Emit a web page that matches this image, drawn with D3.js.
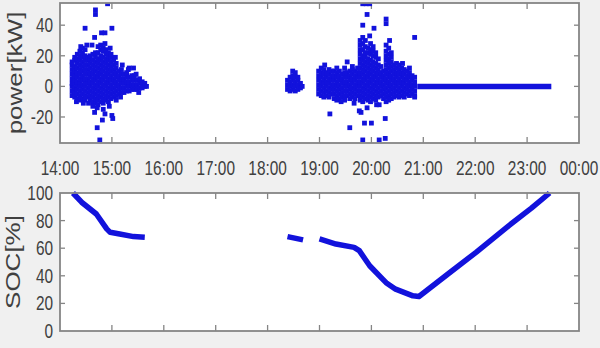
<!DOCTYPE html>
<html>
<head>
<meta charset="utf-8">
<script src="https://cdn.jsdelivr.net/npm/d3@7"></script>
<style>
  html, body { margin:0; padding:0; background:#f0f0f0; }
  svg { display:block; }
  text { font-family:"Liberation Sans", Arial, sans-serif; fill:#404040; }
</style>
</head>
<body>
<svg id="chart" width="600" height="348"></svg>
<script>
// ==================== DATA ====================
// time = minutes after 14:00
const tickMinutes = [0, 60, 120, 180, 240, 300, 360, 420, 480, 540, 600];
const tickLabels = ["14:00","15:00","16:00","17:00","18:00","19:00","20:00","21:00","22:00","23:00","00:00"];
const powerTicks = [-20, 0, 20, 40];
const socTicks = [0, 20, 40, 60, 80, 100];

// power bursts: [minute, [kW values seen in that column]]
const burst1 = [
  [14, [-6,-3,0,2,5,8,11,14,16]],
  [16, [-4,-1,3,6,9,12]],
  [17, [-7,-4,-1,2,4,7,10,13,17,19]],
  [20, [-8,-5,-2,1,3,6,9,12,15,18,21]],
  [23, [-9,-6,-3,0,3,5,8,11,14,17,20,23]],
  [26, [-8,-5,-2,1,4,7,10,13,16,19,22,25]],
  [29, [-9,-6,-3,0,2,5,8,11,14,17,20,24]],
  [32, [-7,-4,-1,2,5,8,11,14,17,19]],
  [35, [-9,-6,-3,0,3,6,9,12,15,18,20]],
  [38, [-10,-7,-4,-1,2,5,8,11,14,17,21]],
  [41, [-11,-8,-5,-2,1,4,7,10,13,16,19,22]],
  [44, [-12,-9,-6,-3,0,3,6,9,12,15,18,22,26]],
  [47, [-10,-7,-4,-1,2,5,8,11,14,17,20,24,27]],
  [50, [-11,-8,-5,-2,1,4,7,10,13,16,19,23,25]],
  [53, [-9,-6,-3,0,3,6,9,12,15,18,21,24]],
  [56, [-10,-7,-4,-1,2,5,8,11,14,17,20,22]],
  [59, [-8,-5,-2,1,4,7,10,13,16,19,21]],
  [62, [-7,-4,-1,2,5,8,11,14,17]],
  [65, [-6,-3,0,3,6,9,12,15]],
  [68, [-5,-2,1,4,7,10]],
  [71, [-4,-1,2,5,8,11]],
  [74, [-4,-1,2,5,8]],
  [77, [-3,0,3,6,9]],
  [80, [-3,0,3,6,12]],
  [83, [-2,1,4,7]],
  [86, [-2,1,4,7]],
  [89, [-2,1,4]],
  [92, [-1,2,5]],
  [95, [-1,1,3]],
  [98, [0,2]],
  [100, [0]]
];
const burst2 = [
  [263, [-2,1,4]],
  [266, [-3,0,3,6]],
  [269, [-2,1,4,7,10]],
  [272, [-3,0,3,6,9]],
  [275, [-2,1,4,6]],
  [278, [-1,2]],
  [280, [0]]
];
const burst3 = [
  [299, [-5,-2,1,4,7,10]],
  [302, [-6,-3,0,3,6,9,12]],
  [305, [-7,-4,-1,2,5,8,11]],
  [308, [-6,-3,0,3,6,9]],
  [311, [-7,-4,-1,2,5,8,11]],
  [314, [-5,-2,1,4,7,10]],
  [317, [-8,-5,-2,1,4,7,10]],
  [320, [-9,-6,-3,0,3,6,9]],
  [323, [-8,-5,-2,1,4,7,10]],
  [326, [-7,-4,-1,2,5,8]],
  [329, [-9,-6,-3,0,3,6,9,12]],
  [332, [-6,-3,0,3,6,9]],
  [335, [-8,-5,-2,1,4,7,10]],
  [338, [-7,-4,-1,2,5,8,11]],
  [341, [-8,-5,-2,1,4,7,10]],
  [344, [-6,-3,0,3,6,9,12]],
  [347, [-9,-6,-3,0,3,6,9,12,15,18,21,24,27,30]],
  [350, [-10,-7,-4,-1,2,5,8,11,14,17,20,24,28,32]],
  [353, [-8,-5,-2,1,4,7,10,13,16,19,22,26,30]],
  [356, [-9,-6,-3,0,3,6,9,12,15,18,22,25]],
  [359, [-10,-7,-4,-1,2,5,8,11,14,17,21,24,28]],
  [362, [-8,-5,-2,1,4,7,10,13,16,20,23,26]],
  [365, [-9,-6,-3,0,3,6,9,12,15,19,22]],
  [368, [-7,-4,-1,2,5,8,11,14,18]],
  [371, [-6,-3,0,3,6,9,13]],
  [374, [-8,-5,-2,1,4,7,10]],
  [377, [-10,-7,-4,-1,2,5,8,11,14,17,20,23,27]],
  [380, [-9,-6,-3,0,3,6,9,12,15,18,21,25]],
  [383, [-8,-5,-2,1,4,7,10,13,16,19,22]],
  [386, [-7,-4,-1,2,5,8,11,14]],
  [389, [-6,-3,0,3,6,9,12,15]],
  [392, [-7,-4,-1,2,5,8,11,14]],
  [395, [-6,-3,0,3,6,9,12]],
  [398, [-7,-4,-1,2,5,8,11]],
  [401, [-5,-2,1,4,7,10]],
  [404, [-6,-3,0,3,6,9]],
  [407, [-5,-2,1,4,7]],
  [410, [-6,-3,0,3,6]]
];
// isolated spikes and ragged edge points [minute, kW]
const spikes = [
  [55,54],[41,50],[41,47],[29,38],[60,38],[48,35],[52,35],[40,32],[52,28],[37,27],
  [43,-14],[40,-17],[52,-18],[60,-19],[49,-22],[43,-27],[46,-35],[61,-21],[50,-15],
  [57,-13],[38,-13],[33,-11],[70,-7],[85,12],[79,11],
  [24,26],[31,27],[58,25],[64,19],[72,14],[88,8],[27,-11],[65,-9],[19,-10],[91,-4],
  [350,54],[354,54],[358,54],[355,47],[350,40],[363,38],[377,44],[377,41],[410,32],
  [358,33],[381,30],[332,16],[306,14],[320,12],[338,13],[396,15],[404,12],
  [312,-18],[335,-27],[348,-17],[352,-24],[360,-24],[369,-12],[376,-21],[350,-35],
  [369,-35],[376,-34],[355,-14],[346,-16],[366,-12],[410,-7],[325,-10],[340,-11]
];
// idle period after 20:53, power held at 0
const idlePower = [[413,0],[568,0]];

// state of charge segments [minute, %]
const soc1 = [[15,100],[25,93.3],[42,84.8],[54,74],[58,71.5],[69,70.3],[85,68.4],[98,67.9]];
const soc2 = [[263,68.4],[281,66]];
const soc3 = [[300,66.7],[319,63],[340,60.6],[346,58.2],[358,47.3],[373,37.6],[377,35],
              [388,30.3],[408,25.5],[415,25],[450,42],[481,57],[519,76.4],[545,89],[566,100]];

// ==================== LAYOUT ====================
const svg = d3.select("#chart");
const left = 60, right = 579;
const top1 = { y0:3, y1:143 };
const top2 = { y0:193, y1:331 };
const blue = "#1212dc";
const frameCol = "#858585";
const sx = 0.77; // text looks squeezed horizontally

const x = d3.scaleLinear().domain([0, 600]).range([left, right]);
const yP = d3.scaleLinear().domain([-37, 54.5]).range([top1.y1, top1.y0]);
const yS = d3.scaleLinear().domain([0, 100]).range([top2.y1, top2.y0]);

function panel(yScale, box, yt, withXLabels){
  svg.append("rect").attr("x",left).attr("y",box.y0)
     .attr("width",right-left).attr("height",box.y1-box.y0).attr("fill","#fff");

  const g = svg.append("g");
  // x ticks, bottom and top (inward)
  tickMinutes.slice(1,-1).forEach(m=>{
    g.append("line").attr("x1",x(m)).attr("x2",x(m)).attr("y1",box.y1).attr("y2",box.y1-6)
      .attr("stroke",frameCol).attr("stroke-width",1.3);
    g.append("line").attr("x1",x(m)).attr("x2",x(m)).attr("y1",box.y0).attr("y2",box.y0+6)
      .attr("stroke",frameCol).attr("stroke-width",1.3);
  });
  // y ticks, left and right
  yt.forEach(v=>{
    const yy = yScale(v);
    if(yy <= box.y0+1 || yy >= box.y1-1) return;
    g.append("line").attr("x1",left).attr("x2",left+5).attr("y1",yy).attr("y2",yy)
      .attr("stroke",frameCol).attr("stroke-width",1.3);
    g.append("line").attr("x1",right).attr("x2",right-5).attr("y1",yy).attr("y2",yy)
      .attr("stroke",frameCol).attr("stroke-width",1.3);
  });
  // y tick labels
  yt.forEach(v=>{
    g.append("text").attr("transform",`translate(${left-7},${yScale(v)+7}) scale(${sx},1)`)
      .attr("text-anchor","end").style("font-size","20px").text(v);
  });
  if(withXLabels){
    tickMinutes.forEach((m,i)=>{
      g.append("text").attr("transform",`translate(${x(m)},${box.y1+32}) scale(${sx},1)`)
        .attr("text-anchor","middle").style("font-size","20px").text(tickLabels[i]);
    });
  }
}

function frame(box){
  svg.append("rect").attr("x",left).attr("y",box.y0)
     .attr("width",right-left).attr("height",box.y1-box.y0)
     .attr("fill","none").attr("stroke",frameCol).attr("stroke-width",1.8);
}

panel(yP, top1, powerTicks, true);
panel(yS, top2, socTicks, false);

// ==================== POWER ====================
const pts = [];
[burst1, burst2, burst3].forEach(b => b.forEach(([m, vals]) => vals.forEach(v => pts.push([m, v]))));
spikes.forEach(p => pts.push(p));

svg.append("clipPath").attr("id","clipP").append("rect")
  .attr("x",left).attr("y",top1.y0).attr("width",right-left).attr("height",top1.y1-top1.y0);

const gp = svg.append("g").attr("clip-path","url(#clipP)");
gp.selectAll("rect.pt").data(pts).join("rect").attr("class","pt")
  .attr("x",d=>x(d[0])-2.4).attr("y",d=>yP(d[1])-2.4)
  .attr("width",4.8).attr("height",4.8).attr("fill",blue);

gp.append("path").datum(idlePower)
  .attr("d", d3.line().x(d=>x(d[0])).y(d=>yP(d[1])))
  .attr("stroke",blue).attr("stroke-width",5.5).attr("fill","none");

// ==================== SOC ====================
const lineS = d3.line().x(d=>x(d[0])).y(d=>yS(d[1]));
svg.append("g").selectAll("path").data([soc1, soc2, soc3]).join("path")
  .attr("d", lineS).attr("fill","none").attr("stroke",blue)
  .attr("stroke-width",5.5).attr("stroke-linejoin","round");

frame(top1);
frame(top2);

// ==================== AXIS TITLES ====================
svg.append("text")
  .attr("transform",`translate(22,${(top1.y0+top1.y1)/2}) scale(${sx},1) rotate(-90)`)
  .attr("text-anchor","middle").style("font-size","26px").text("power[kW]");
svg.append("text")
  .attr("transform",`translate(20,${(top2.y0+top2.y1)/2}) scale(${sx},1) rotate(-90)`)
  .attr("text-anchor","middle").style("font-size","26px").text("SOC[%]");
</script>
</body>
</html>
